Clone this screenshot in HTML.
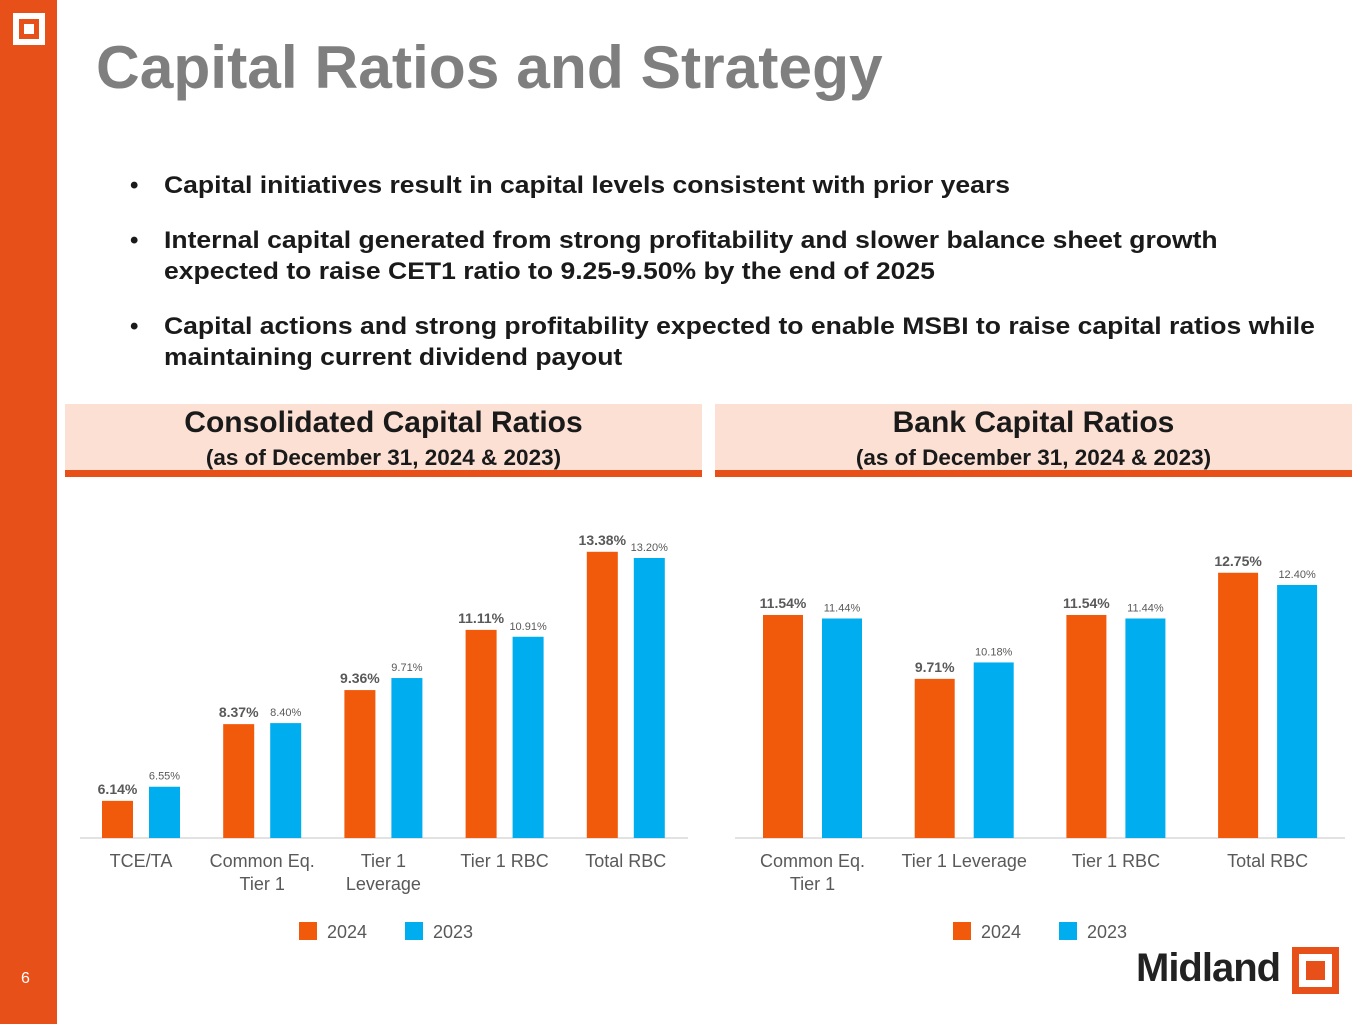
<!DOCTYPE html>
<html><head><meta charset="utf-8"><style>
body{margin:0;width:1365px;height:1024px;position:relative;background:#fff;font-family:"Liberation Sans",sans-serif;overflow:hidden}
.abs{position:absolute}
.bul{position:absolute;left:130px;font-weight:bold;font-size:24px;color:#1a1a1a;line-height:31px}
.bul span{position:absolute;left:34px;white-space:nowrap;transform:scaleX(1.105);transform-origin:0 0}
.hdr{position:absolute;top:404px;height:66px;width:637px;background:#FCE0D4;border-bottom:7px solid #E8501A;text-align:center;color:#1a1a1a;font-weight:bold}
.hdr .t{font-size:30px;margin-top:2px}
.hdr .s{font-size:22.5px;margin-top:5px}
</style></head><body>
<div class="abs" style="left:0;top:0;width:57px;height:1024px;background:#E8501A"></div>
<div class="abs" style="left:13px;top:13px;width:32px;height:32px;background:#fff"><div style="position:absolute;left:6px;top:6px;width:20px;height:20px;background:#E8501A"><div style="position:absolute;left:5px;top:5px;width:10px;height:10px;background:#fff"></div></div></div>
<div class="abs" style="left:21px;top:970px;color:#fff;font-size:16px">6</div>
<div class="abs" style="left:96px;top:32px;font-size:60.5px;font-weight:bold;color:#7f7f7f;white-space:nowrap">Capital Ratios and Strategy</div>
<div class="bul" style="top:170px">•<span>Capital initiatives result in capital levels consistent with prior years</span></div>
<div class="bul" style="top:225px">•<span>Internal capital generated from strong profitability and slower balance sheet growth<br>expected to raise CET1 ratio to 9.25-9.50% by the end of 2025</span></div>
<div class="bul" style="top:311px">•<span>Capital actions and strong profitability expected to enable MSBI to raise capital ratios while<br>maintaining current dividend payout</span></div>
<div class="hdr" style="left:65px"><div class="t">Consolidated Capital Ratios</div><div class="s">(as of December 31, 2024 &amp; 2023)</div></div>
<div class="hdr" style="left:715px"><div class="t">Bank Capital Ratios</div><div class="s">(as of December 31, 2024 &amp; 2023)</div></div>
<svg class="abs" style="left:0;top:0" width="1365" height="1024" id="charts"></svg>
<div class="abs" style="left:1136px;top:946px;font-size:40px;font-weight:bold;color:#222;letter-spacing:-1px">Midland</div>
<div class="abs" style="left:1292px;top:947px;width:47px;height:47px;background:#E8501A"><div style="position:absolute;left:7px;top:7px;width:33px;height:33px;background:#fff"><div style="position:absolute;left:7px;top:7px;width:19px;height:19px;background:#E8501A"></div></div></div>
<script>
const consCats=[["TCE/TA"],["Common Eq.","Tier 1"],["Tier 1","Leverage"],["Tier 1 RBC"],["Total RBC"]];
const cons2024=[6.14,8.37,9.36,11.11,13.38];
const cons2023=[6.55,8.40,9.71,10.91,13.20];
const bankCats=[["Common Eq.","Tier 1"],["Tier 1 Leverage"],["Tier 1 RBC"],["Total RBC"]];
const bank2024=[11.54,9.71,11.54,12.75];
const bank2023=[11.44,10.18,11.44,12.40];
const svg=document.getElementById('charts');const NS='http://www.w3.org/2000/svg';
function mk(t,a){const e=document.createElementNS(NS,t);for(const k in a)e.setAttribute(k,a[k]);svg.appendChild(e);return e;}
function chart(o){
 const y=v=>o.base-(v-o.min)*o.k;
 const ax=mk('line',{x1:o.x0,x2:o.x1,y1:o.base,y2:o.base,stroke:'#d9d9d9','stroke-width':1.5});
 
 o.cats.forEach((c,i)=>{
  const cx=o.c0+i*o.step;
  [[o.s1,'#F15A0B',cx-o.off-o.w,14,'bold','2024'],[o.s2,'#00AEEF',cx+o.off,11,'normal','2023']].forEach(s=>{
   const v=s[0][i];
   const r=mk('rect',{x:s[2],y:y(v),width:o.w,height:o.base-y(v),fill:s[1]});
   
   const t=mk('text',{x:s[2]+o.w/2,y:y(v)-7,'text-anchor':'middle','font-size':s[3],'font-weight':s[4],fill:'#595959'});
   t.textContent=v.toFixed(2)+'%';
   
  });
  c.forEach((l,j)=>{const t=mk('text',{x:cx,y:867+j*23,'text-anchor':'middle','font-size':18,fill:'#595959'});t.textContent=l;
   });
 });
 [['2024','#F15A0B',o.lx],['2023','#00AEEF',o.lx+106]].forEach(L=>{
  const r=mk('rect',{x:L[2],y:922,width:18,height:18,fill:L[1]});
  
  const t=mk('text',{x:L[2]+28,y:938,'font-size':18,fill:'#595959'});t.textContent=L[0];
  
 });
}
chart({id:'consolidated',cats:consCats,s1:cons2024,s2:cons2023,base:838,min:5.06,k:34.4,x0:80,x1:688,c0:141,step:121.2,off:8,w:31,lx:299});
chart({id:'bank',cats:bankCats,s1:bank2024,s2:bank2023,base:838,min:5.15,k:34.9,x0:735,x1:1345,c0:812.5,step:151.7,off:9.5,w:40,lx:953});
</script>
</body></html>
